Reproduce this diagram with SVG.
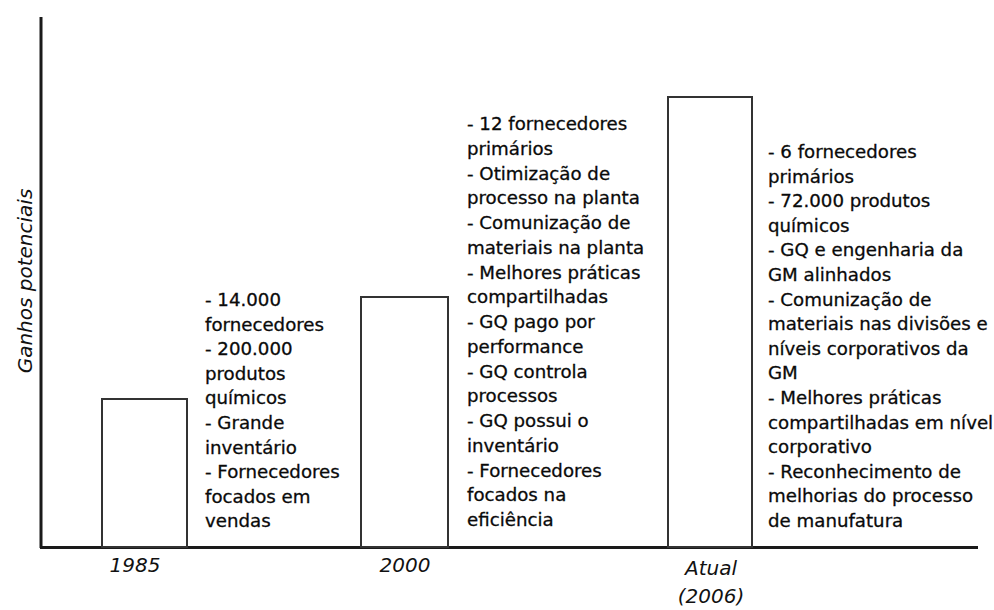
<svg xmlns="http://www.w3.org/2000/svg" width="994" height="610" viewBox="0 0 994 610">
  <style>
    .axis { stroke: #1a1a1a; stroke-width: 3; fill: none; }
    .bar { fill: #ffffff; stroke: #333333; stroke-width: 2; }
    .note { font-family: "DejaVu Sans", Verdana, sans-serif; font-size: 18.2px; fill: #0a0a0a; stroke: #0a0a0a; stroke-width: 0.3; }
    .lbl { font-family: "DejaVu Sans", Verdana, sans-serif; font-size: 20px; font-style: italic; fill: #111111; }
  </style>
  <rect width="994" height="610" fill="#ffffff"/>

  <!-- axes -->
  <g id="axes">
    <line class="axis" x1="41" y1="17" x2="41" y2="548"/>
    <line class="axis" x1="40" y1="547.5" x2="978" y2="547.5"/>
    <text class="lbl" transform="translate(32,281) rotate(-90)" text-anchor="middle">Ganhos potenciais</text>
  </g>

  <!-- 1985 -->
  <g id="bar-1985">
    <rect class="bar" x="102" y="399" width="85" height="148"/>
    <text class="lbl" x="135" y="572" text-anchor="middle">1985</text>
    <text class="note" x="205">
      <tspan x="205" y="306">- 14.000</tspan>
      <tspan x="205" dy="24.6">fornecedores</tspan>
      <tspan x="205" dy="24.6">- 200.000</tspan>
      <tspan x="205" dy="24.6">produtos</tspan>
      <tspan x="205" dy="24.6">químicos</tspan>
      <tspan x="205" dy="24.6">- Grande</tspan>
      <tspan x="205" dy="24.6">inventário</tspan>
      <tspan x="205" dy="24.6">- Fornecedores</tspan>
      <tspan x="205" dy="24.6">focados em</tspan>
      <tspan x="205" dy="24.6">vendas</tspan>
    </text>
  </g>

  <!-- 2000 -->
  <g id="bar-2000">
    <rect class="bar" x="361" y="297" width="87" height="250"/>
    <text class="lbl" x="405" y="572" text-anchor="middle">2000</text>
    <text class="note" x="467">
      <tspan x="467" y="130">- 12 fornecedores</tspan>
      <tspan x="467" dy="24.75">primários</tspan>
      <tspan x="467" dy="24.75">- Otimização de</tspan>
      <tspan x="467" dy="24.75">processo na planta</tspan>
      <tspan x="467" dy="24.75">- Comunização de</tspan>
      <tspan x="467" dy="24.75">materiais na planta</tspan>
      <tspan x="467" dy="24.75">- Melhores práticas</tspan>
      <tspan x="467" dy="24.75">compartilhadas</tspan>
      <tspan x="467" dy="24.75">- GQ pago por</tspan>
      <tspan x="467" dy="24.75">performance</tspan>
      <tspan x="467" dy="24.75">- GQ controla</tspan>
      <tspan x="467" dy="24.75">processos</tspan>
      <tspan x="467" dy="24.75">- GQ possui o</tspan>
      <tspan x="467" dy="24.75">inventário</tspan>
      <tspan x="467" dy="24.75">- Fornecedores</tspan>
      <tspan x="467" dy="24.75">focados na</tspan>
      <tspan x="467" dy="24.75">eficiência</tspan>
    </text>
  </g>

  <!-- Atual (2006) -->
  <g id="bar-2006">
    <rect class="bar" x="668" y="97" width="84" height="450"/>
    <text class="lbl" x="711" y="575" text-anchor="middle">Atual</text>
    <text class="lbl" x="711" y="603" text-anchor="middle">(2006)</text>
    <text class="note" x="768">
      <tspan x="768" y="158">- 6 fornecedores</tspan>
      <tspan x="768" dy="24.6">primários</tspan>
      <tspan x="768" dy="24.6">- 72.000 produtos</tspan>
      <tspan x="768" dy="24.6">químicos</tspan>
      <tspan x="768" dy="24.6">- GQ e engenharia da</tspan>
      <tspan x="768" dy="24.6">GM alinhados</tspan>
      <tspan x="768" dy="24.6">- Comunização de</tspan>
      <tspan x="768" dy="24.6">materiais nas divisões e</tspan>
      <tspan x="768" dy="24.6">níveis corporativos da</tspan>
      <tspan x="768" dy="24.6">GM</tspan>
      <tspan x="768" dy="24.6">- Melhores práticas</tspan>
      <tspan x="768" dy="24.6">compartilhadas em nível</tspan>
      <tspan x="768" dy="24.6">corporativo</tspan>
      <tspan x="768" dy="24.6">- Reconhecimento de</tspan>
      <tspan x="768" dy="24.6">melhorias do processo</tspan>
      <tspan x="768" dy="24.6">de manufatura</tspan>
    </text>
  </g>
</svg>
